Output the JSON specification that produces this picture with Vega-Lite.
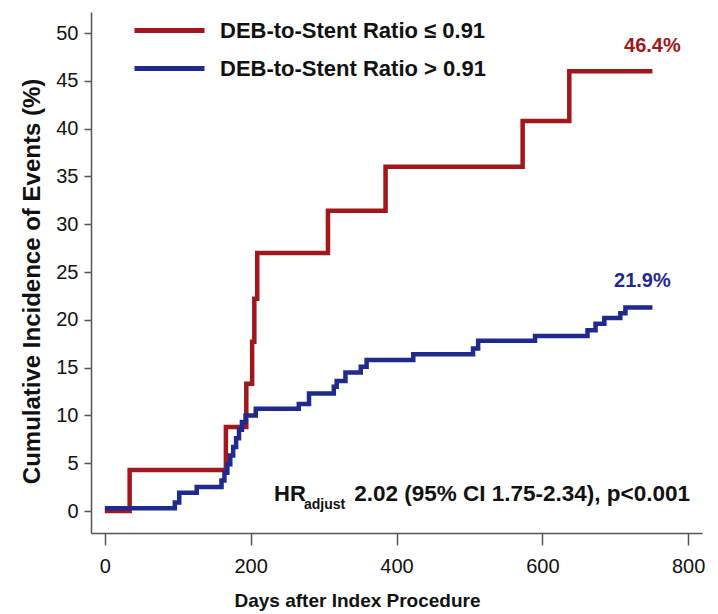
{
  "$schema": "https://vega.github.io/schema/vega-lite/v6.json",
  "width": 611,
  "height": 521,
  "autosize": {"type": "none"},
  "padding": {"left": 91, "top": 12, "right": 16, "bottom": 81},
  "background": "white",
  "config": {
    "view": {"stroke": null},
    "font": "Liberation Sans",
    "axis": {
      "grid": false,
      "domainColor": "#555555",
      "tickColor": "#555555",
      "domainWidth": 1.5,
      "tickWidth": 1.5,
      "labelColor": "#111111",
      "titleColor": "#111111",
      "labelFont": "Liberation Sans",
      "titleFont": "Liberation Sans"
    }
  },
  "datasets": {
    "curves": [
      {"group": "DEB-to-Stent Ratio ≤ 0.91", "day": 0, "pct": 0},
      {"group": "DEB-to-Stent Ratio ≤ 0.91", "day": 34, "pct": 4.3},
      {"group": "DEB-to-Stent Ratio ≤ 0.91", "day": 166, "pct": 8.8},
      {"group": "DEB-to-Stent Ratio ≤ 0.91", "day": 194, "pct": 13.3},
      {"group": "DEB-to-Stent Ratio ≤ 0.91", "day": 202, "pct": 17.7},
      {"group": "DEB-to-Stent Ratio ≤ 0.91", "day": 205, "pct": 22.2},
      {"group": "DEB-to-Stent Ratio ≤ 0.91", "day": 209, "pct": 27.0},
      {"group": "DEB-to-Stent Ratio ≤ 0.91", "day": 306, "pct": 31.4},
      {"group": "DEB-to-Stent Ratio ≤ 0.91", "day": 385, "pct": 36.0},
      {"group": "DEB-to-Stent Ratio ≤ 0.91", "day": 573, "pct": 40.8},
      {"group": "DEB-to-Stent Ratio ≤ 0.91", "day": 637, "pct": 46.0},
      {"group": "DEB-to-Stent Ratio ≤ 0.91", "day": 751, "pct": 46.0},
      {"group": "DEB-to-Stent Ratio > 0.91", "day": 0, "pct": 0.3},
      {"group": "DEB-to-Stent Ratio > 0.91", "day": 96, "pct": 0.9},
      {"group": "DEB-to-Stent Ratio > 0.91", "day": 102, "pct": 1.9},
      {"group": "DEB-to-Stent Ratio > 0.91", "day": 126, "pct": 2.5},
      {"group": "DEB-to-Stent Ratio > 0.91", "day": 160, "pct": 3.2},
      {"group": "DEB-to-Stent Ratio > 0.91", "day": 164, "pct": 4.0},
      {"group": "DEB-to-Stent Ratio > 0.91", "day": 168, "pct": 4.9},
      {"group": "DEB-to-Stent Ratio > 0.91", "day": 172, "pct": 5.8},
      {"group": "DEB-to-Stent Ratio > 0.91", "day": 176, "pct": 6.7},
      {"group": "DEB-to-Stent Ratio > 0.91", "day": 180, "pct": 7.6},
      {"group": "DEB-to-Stent Ratio > 0.91", "day": 184, "pct": 8.5},
      {"group": "DEB-to-Stent Ratio > 0.91", "day": 188, "pct": 9.3},
      {"group": "DEB-to-Stent Ratio > 0.91", "day": 193, "pct": 10.0},
      {"group": "DEB-to-Stent Ratio > 0.91", "day": 207, "pct": 10.7},
      {"group": "DEB-to-Stent Ratio > 0.91", "day": 266, "pct": 11.2},
      {"group": "DEB-to-Stent Ratio > 0.91", "day": 280, "pct": 12.3},
      {"group": "DEB-to-Stent Ratio > 0.91", "day": 314, "pct": 13.0},
      {"group": "DEB-to-Stent Ratio > 0.91", "day": 318, "pct": 13.6},
      {"group": "DEB-to-Stent Ratio > 0.91", "day": 330, "pct": 14.5},
      {"group": "DEB-to-Stent Ratio > 0.91", "day": 351, "pct": 15.1},
      {"group": "DEB-to-Stent Ratio > 0.91", "day": 359, "pct": 15.8},
      {"group": "DEB-to-Stent Ratio > 0.91", "day": 423, "pct": 16.4},
      {"group": "DEB-to-Stent Ratio > 0.91", "day": 505, "pct": 17.0},
      {"group": "DEB-to-Stent Ratio > 0.91", "day": 512, "pct": 17.8},
      {"group": "DEB-to-Stent Ratio > 0.91", "day": 590, "pct": 18.3},
      {"group": "DEB-to-Stent Ratio > 0.91", "day": 662, "pct": 18.9},
      {"group": "DEB-to-Stent Ratio > 0.91", "day": 673, "pct": 19.6},
      {"group": "DEB-to-Stent Ratio > 0.91", "day": 685, "pct": 20.2},
      {"group": "DEB-to-Stent Ratio > 0.91", "day": 707, "pct": 20.7},
      {"group": "DEB-to-Stent Ratio > 0.91", "day": 714, "pct": 21.3},
      {"group": "DEB-to-Stent Ratio > 0.91", "day": 751, "pct": 21.3}
    ],
    "ends": [
      {"group": "DEB-to-Stent Ratio ≤ 0.91", "day": 751, "pct": 46.0, "label": "46.4%"},
      {"group": "DEB-to-Stent Ratio > 0.91", "day": 751, "pct": 21.3, "label": "21.9%"}
    ]
  },
  "layer": [
    {
      "data": {"name": "curves"},
      "mark": {"type": "line", "interpolate": "step-after", "strokeWidth": 4.5, "strokeJoin": "miter", "strokeCap": "butt"},
      "encoding": {
        "x": {
          "field": "day", "type": "quantitative",
          "scale": {"domain": [-19, 819], "nice": false, "zero": false},
          "axis": {
            "values": [0, 200, 400, 600, 800],
            "tickSize": 12, "labelFontSize": 20, "labelPadding": 11,
            "title": "Days after Index Procedure", "titleFontSize": 19, "titleFontWeight": "bold", "titlePadding": 15,
            "titleX": 266, "titleAlign": "center", "titleAnchor": null
          }
        },
        "y": {
          "field": "pct", "type": "quantitative",
          "scale": {"domain": [-2.3, 52.2], "nice": false, "zero": false},
          "axis": {
            "values": [0, 5, 10, 15, 20, 25, 30, 35, 40, 45, 50],
            "tickSize": 7, "labelFontSize": 20, "labelPadding": 6,
            "title": "Cumulative Incidence of Events (%)", "titleFontSize": 24, "titleFontWeight": "bold", "titlePadding": 11,
            "titleY": 269, "titleAnchor": null
          }
        },
        "color": {
          "field": "group", "type": "nominal",
          "scale": {"domain": ["DEB-to-Stent Ratio ≤ 0.91", "DEB-to-Stent Ratio > 0.91"], "range": ["#A0171C", "#1F2A8F"]},
          "legend": {
            "orient": "none", "legendX": 66, "legendY": 6, "title": null,
            "symbolType": "M-3.5,0H3.5", "symbolSize": 400, "symbolStrokeWidth": 5,
            "labelFontSize": 22, "labelFontWeight": "bold", "labelColor": "#111111", "labelOffset": 38,
            "labelLimit": 0, "rowPadding": 14
          }
        }
      }
    },
    {
      "data": {"name": "ends"},
      "transform": [{"filter": "datum.pct > 30"}],
      "mark": {"type": "text", "fontSize": 20, "fontWeight": "bold", "color": "#A0171C", "dy": -25, "align": "center"},
      "encoding": {
        "x": {"field": "day", "type": "quantitative"},
        "y": {"field": "pct", "type": "quantitative"},
        "text": {"field": "label"}
      }
    },
    {
      "data": {"name": "ends"},
      "transform": [{"filter": "datum.pct < 30"}],
      "mark": {"type": "text", "fontSize": 20, "fontWeight": "bold", "color": "#1F2A8F", "dy": -26, "dx": -10, "align": "center"},
      "encoding": {
        "x": {"field": "day", "type": "quantitative"},
        "y": {"field": "pct", "type": "quantitative"},
        "text": {"field": "label"}
      }
    },
    {
      "data": {"values": [{"t": "HR"}]},
      "mark": {"type": "text", "fontSize": 22, "fontWeight": "bold", "color": "#111111", "align": "left", "baseline": "alphabetic"},
      "encoding": {
        "x": {"datum": 232, "type": "quantitative"},
        "y": {"datum": 1.0, "type": "quantitative"},
        "text": {"field": "t"}
      }
    },
    {
      "data": {"values": [{"t": "adjust"}]},
      "mark": {"type": "text", "fontSize": 14, "fontWeight": "bold", "color": "#111111", "align": "left", "baseline": "alphabetic"},
      "encoding": {
        "x": {"datum": 273, "type": "quantitative"},
        "y": {"datum": 0.2, "type": "quantitative"},
        "text": {"field": "t"}
      }
    },
    {
      "data": {"values": [{"t": "2.02 (95% CI 1.75-2.34), p<0.001"}]},
      "mark": {"type": "text", "fontSize": 22.5, "fontWeight": "bold", "color": "#111111", "align": "left", "baseline": "alphabetic"},
      "encoding": {
        "x": {"datum": 342, "type": "quantitative"},
        "y": {"datum": 1.0, "type": "quantitative"},
        "text": {"field": "t"}
      }
    }
  ]
}
